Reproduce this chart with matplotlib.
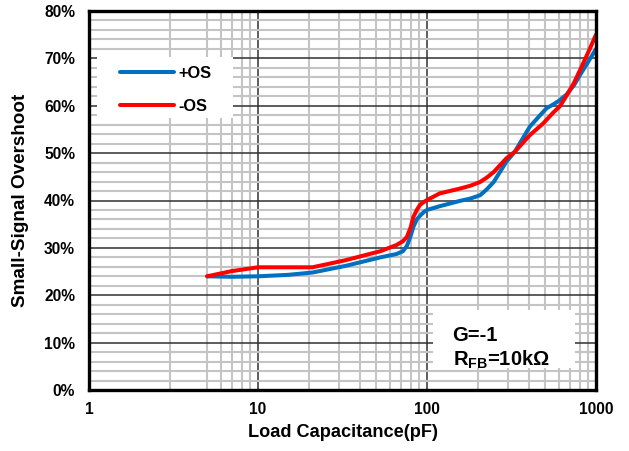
import matplotlib
matplotlib.use("Agg")
import matplotlib.pyplot as plt
from matplotlib.ticker import FixedLocator, MultipleLocator, FuncFormatter, NullFormatter
from matplotlib.patches import Rectangle

plt.rcParams['font.family'] = ['Liberation Sans', 'DejaVu Sans']
plt.rcParams['font.weight'] = 'bold'
plt.rcParams['mathtext.fontset'] = 'custom'
plt.rcParams['mathtext.rm'] = 'Liberation Sans:bold'
plt.rcParams['mathtext.bf'] = 'Liberation Sans:bold'
plt.rcParams['mathtext.it'] = 'Liberation Sans:bold'

# Data (load capacitance in pF, overshoot in %)
pos_x = [5, 7, 10, 15, 21, 33, 53, 66, 72, 76, 80, 83, 87, 91, 96, 100, 119, 156, 180, 206, 225, 248, 295, 331, 406, 467, 511, 560, 612, 671, 740, 804, 900, 1000]
pos_y = [24.0, 23.9, 24.0, 24.3, 24.8, 26.2, 28.0, 28.7, 29.3, 30.4, 32.5, 34.4, 36.0, 36.8, 37.6, 38.0, 38.8, 39.9, 40.4, 41.1, 42.3, 43.9, 48.2, 50.3, 55.6, 58.0, 59.5, 60.3, 61.2, 62.4, 64.3, 66.5, 69.3, 72.0]

neg_x = [5, 7, 10, 13.5, 21, 33, 53, 66, 72, 76, 80, 83, 87, 91, 96, 100, 119, 156, 180, 206, 225, 248, 295, 331, 406, 488, 560, 612, 671, 740, 804, 900, 1000]
neg_y = [24.0, 25.1, 25.9, 25.9, 25.9, 27.4, 29.3, 30.6, 31.4, 32.3, 34.3, 36.5, 38.0, 39.1, 39.7, 40.1, 41.5, 42.5, 43.1, 43.9, 44.8, 46.0, 48.9, 50.3, 53.8, 56.3, 58.6, 59.9, 62.2, 64.8, 67.5, 71.3, 75.0]

series_labels = ['+OS', '-OS']
x_ticks = [1, 10, 100, 1000]
x_minor = [3, 5, 6, 7, 8, 9] + [d * m for d in (10, 100) for m in range(2, 10)]
y_ticks = list(range(0, 81, 10))

fig = plt.figure(figsize=(6.29, 4.51), dpi=100)
ax = fig.add_axes([89/629, 61/451, 507/629, 379/451])

ax.plot(pos_x, pos_y, color='#0070C0', lw=2.9, label=series_labels[0], solid_capstyle='round',
        solid_joinstyle='round', zorder=5)
ax.plot(neg_x, neg_y, color='#FF0000', lw=2.9, label=series_labels[1], solid_capstyle='round',
        solid_joinstyle='round', zorder=6)

ax.set_xscale('log')
ax.set_xlim(1, 1000)
ax.set_ylim(0, 80)
ax.xaxis.set_major_locator(FixedLocator(x_ticks))
ax.xaxis.set_minor_locator(FixedLocator(x_minor))
ax.xaxis.set_major_formatter(FuncFormatter(lambda v, p: f"{v:g}"))
ax.xaxis.set_minor_formatter(NullFormatter())
ax.yaxis.set_major_locator(FixedLocator(y_ticks))
ax.yaxis.set_minor_locator(MultipleLocator(2))
ax.yaxis.set_major_formatter(FuncFormatter(lambda v, p: f"{v:.0f}%"))

ax.grid(which='minor', color='#c4c4c4', lw=1.5, zorder=0)
ax.grid(which='major', color='#303030', lw=1.1, zorder=1)
ax.set_axisbelow(True)
ax.tick_params(which='both', length=0)
ax.tick_params(axis='x', pad=9, labelsize=11.2)
ax.tick_params(axis='y', pad=10, labelsize=11.2)
for s in ax.spines.values():
    s.set_linewidth(2.4)
    s.set_color('black')
    s.set_zorder(10)

ax.set_xlabel('Load Capacitance(pF)', fontsize=13.1, fontweight='bold', labelpad=5)
ax.set_ylabel('Small-Signal Overshoot', fontsize=13.6, fontweight='bold', labelpad=11)

# legend background box
ax.add_patch(Rectangle((0.0158, 0.7177), 0.268, 0.1617, transform=ax.transAxes,
                       facecolor='white', edgecolor='none', zorder=7))
leg = ax.legend(loc='center left', bbox_to_anchor=(0.0611, 0.7924), frameon=False,
                fontsize=11.8, handlelength=3.3, handletextpad=0.25, labelspacing=1.12,
                borderpad=0, borderaxespad=0)
for t in leg.get_texts():
    t.set_fontweight('bold')
leg.set_zorder(8)

# annotation box
ax.add_patch(Rectangle((0.678, 0.058), 0.281, 0.153, transform=ax.transAxes,
                       facecolor='white', edgecolor='none', zorder=7))
ax.text(0.717, 0.145, 'G=-1', transform=ax.transAxes, fontsize=14.5, fontweight='bold',
        va='center', ha='left', zorder=9)
ax.text(0.717, 0.08, r'R$_{\mathrm{FB}}$=10kΩ', transform=ax.transAxes, fontsize=14.5,
        fontweight='bold', va='center', ha='left', zorder=9)

fig.savefig('out.png', dpi=100)
